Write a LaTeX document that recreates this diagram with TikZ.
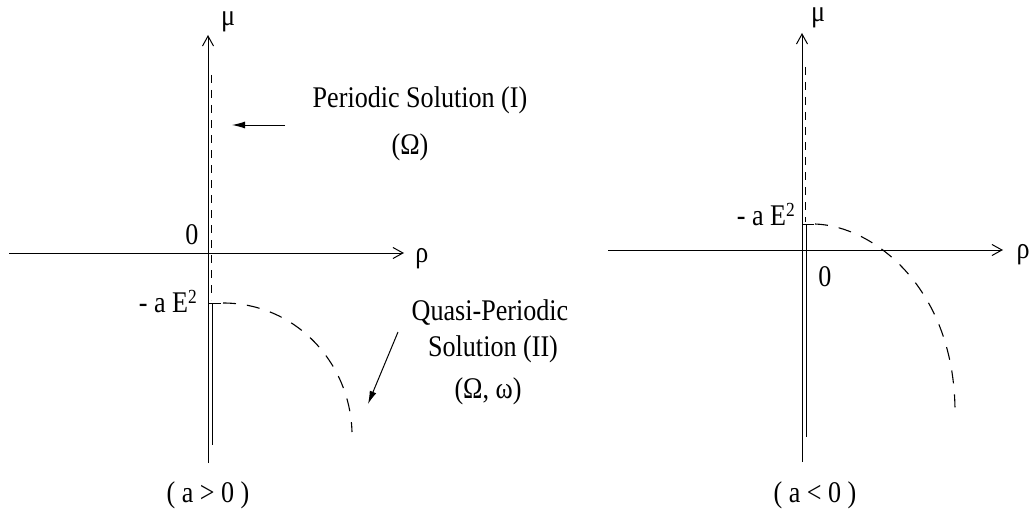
\documentclass[tikz,border=0pt]{standalone}
\usepackage{fontspec}
\setmainfont{Liberation Serif}[FakeStretch=0.87]
\usetikzlibrary{arrows.meta}
\tikzset{
  axis/.style={line width=1pt,-{Straight Barb[length=10pt,width=11pt,line width=1pt]}},
  plain/.style={line width=1pt},
  dline/.style={line width=1pt,dash pattern=on 8pt off 7pt},
  dcurve/.style={line width=1.1pt,dash pattern=on 13pt off 11pt},
  pointer/.style={line width=1pt,-{Latex[length=13pt,width=7pt]}},
  lab/.style={inner sep=0pt,font=\fontsize{30}{34}\selectfont},
}
\newcommand{\sqtwo}{\raisebox{9pt}{\fontsize{20}{22}\selectfont 2}}
\begin{document}
\begin{tikzpicture}[x=1pt,y=-1pt]
\useasboundingbox (0,0) rectangle (1032,508);
% ---------- left panel ----------
\coordinate (LyB) at (208,463);
\coordinate (LyT) at (208,35);
\coordinate (LxL) at (9,253);
\coordinate (LxR) at (404,253);
\coordinate (LdT) at (211.5,75);
\coordinate (LdB) at (211.5,300);
\coordinate (LsT) at (212,303);
\coordinate (LsB) at (212,445);
\coordinate (LtA) at (208,303);
\coordinate (LtB) at (221,303);
\coordinate (LcS) at (223,303);
\coordinate (LcE) at (352,432);
\draw[axis] (LyB) -- (LyT);
\draw[axis] (LxL) -- (LxR);
\draw[dline] (LdT) -- (LdB);
\draw[plain] (LsT) -- (LsB);
\draw[plain] (LtA) -- (LtB);
\draw[dcurve] (LcS) .. controls (295,303) and (350,362) .. (LcE);
\node[lab] (Lmu) at (228,22) {μ};
\node[lab] (Lrho) at (422,259) {ρ};
\node[lab] (Lzero) at (192,235) {0};
\node[lab,anchor=base east] (LaE) at (197,312) {- a E\sqtwo};
\node[lab,anchor=base] (per) at (420,108) {Periodic Solution (I)};
\node[lab,anchor=base] (perO) at (410,154) {(Ω)};
\node[lab,anchor=base] (qp1) at (490,320) {Quasi-Periodic};
\node[lab,anchor=base] (qp2) at (493,356) {Solution (II)};
\node[lab,anchor=base] (qp3) at (488,398) {(Ω, ω)};
\node[lab] (Lcap) at (208,495) {( a > 0 )};
\coordinate (PaS) at (285,125);
\coordinate (PaE) at (232,125);
\draw[pointer] (PaS) -- (PaE);
\coordinate (QaS) at (398,332);
\coordinate (QaE) at (368,404);
\draw[pointer] (QaS) -- (QaE);
% ---------- right panel ----------
\coordinate (RyB) at (802,462);
\coordinate (RyT) at (802,33);
\coordinate (RxL) at (608,250);
\coordinate (RxR) at (1003,250);
\coordinate (RdT) at (805,67);
\coordinate (RdB) at (805,222);
\coordinate (RsT) at (806.5,224);
\coordinate (RsB) at (806.5,437);
\coordinate (RtA) at (802,224);
\coordinate (RtB) at (814,224);
\coordinate (RcS) at (815,224);
\coordinate (RcE) at (955,412);
\draw[axis] (RyB) -- (RyT);
\draw[axis] (RxL) -- (RxR);
\draw[dline] (RdT) -- (RdB);
\draw[plain] (RsT) -- (RsB);
\draw[plain] (RtA) -- (RtB);
\draw[dcurve] (RcS) .. controls (875,226) and (955,290) .. (RcE);
\node[lab] (Rmu) at (818,18) {μ};
\node[lab] (Rrho) at (1023,255) {ρ};
\node[lab] (Rzero) at (825,277) {0};
\node[lab,anchor=base east] (RaE) at (795,225) {- a E\sqtwo};
\node[lab] (Rcap) at (815,495) {( a < 0 )};
\end{tikzpicture}
\end{document}
